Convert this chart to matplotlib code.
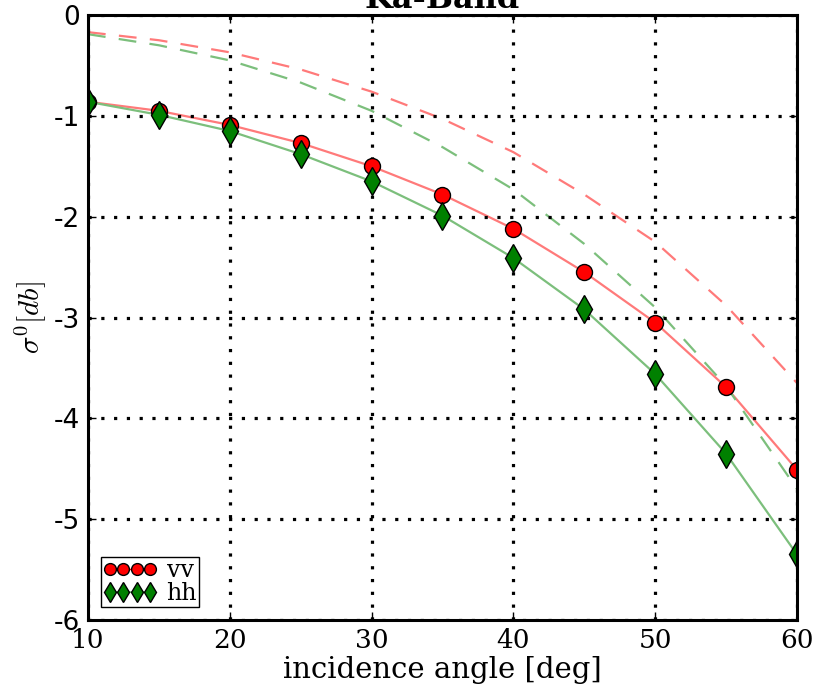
import matplotlib
matplotlib.use('Agg')
import matplotlib.pyplot as plt
from matplotlib.lines import Line2D

# data
theta = [10, 15, 20, 25, 30, 35, 40, 45, 50, 55, 60]
vv = [-0.86, -0.95, -1.09, -1.27, -1.50, -1.78, -2.12, -2.55, -3.05, -3.69, -4.51]
hh = [-0.86, -0.99, -1.15, -1.38, -1.65, -1.99, -2.41, -2.92, -3.56, -4.35, -5.35]
vv_dash = [-0.17, -0.25, -0.37, -0.54, -0.76, -1.03, -1.36, -1.78, -2.25, -2.88, -3.65]
hh_dash = [-0.19, -0.30, -0.45, -0.67, -0.95, -1.31, -1.73, -2.27, -2.90, -3.68, -4.70]
xticks = [10, 20, 30, 40, 50, 60]
yticks = [0, -1, -2, -3, -4, -5, -6]

plt.rcParams['font.family'] = 'DejaVu Serif'
plt.rcParams['mathtext.fontset'] = 'cm'

fig = plt.figure(figsize=(8.16, 6.89), dpi=100)
ax = fig.add_axes([0.1078, 0.1001, 0.8689, 0.8781])

red_l = '#ff7a7a'
green_l = '#7cbf7c'

# model curves
ax.plot(theta, vv, color=red_l, lw=1.6, zorder=2)
ax.plot(theta, hh, color=green_l, lw=1.6, zorder=2)
ax.plot(theta, vv_dash, color=red_l, lw=1.6, ls=(0, (8, 6)), zorder=2)
ax.plot(theta, hh_dash, color=green_l, lw=1.6, ls=(0, (8, 6)), zorder=2)

# measured points (clipped at the frame like the original)
ax.plot(theta, vv, 'o', color='r', mec='k', mew=1, ms=11.5, ls='none', zorder=3)
ax.plot(theta, hh, 'd', color='g', mec='k', mew=1, ms=14, ls='none', zorder=3)

ax.set_xlim(10, 60)
ax.set_ylim(-6, 0)
ax.set_xticks(xticks)
ax.set_yticks(yticks)
ax.set_xticklabels([str(t) for t in xticks], fontsize=19)
ax.set_yticklabels([str(t) for t in yticks], fontsize=19, family='DejaVu Sans')

ax.grid(True, color='k', ls=(0, (1, 3)), lw=2.3, zorder=4)
ax.set_axisbelow(False)
ax.tick_params(direction='in', length=6, width=1, top=True, right=True, pad=6)
for s in ax.spines.values():
    s.set_linewidth(2.2)
    s.set_zorder(5)

ax.set_xlabel('incidence angle [deg]', fontsize=21, labelpad=2)
ax.set_ylabel(r'$\sigma^0[db]$', fontsize=21, labelpad=4)
ax.set_title('Ka-Band', fontsize=23, fontweight='bold', pad=5)

h1 = Line2D([], [], color='r', marker='o', mfc='r', mec='k', ms=8.5, lw=1)
h2 = Line2D([], [], color=green_l, marker='d', mfc='g', mec='k', ms=10, lw=1.2)
leg = ax.legend([h1, h2], ['vv', 'hh'], loc='lower left', numpoints=4, fontsize=17,
                fancybox=False, edgecolor='k', framealpha=1, labelspacing=0.0,
                handlelength=2.3, handletextpad=0.4, borderpad=0.08,
                borderaxespad=0.55)
leg.get_frame().set_linewidth(1)
leg.set_zorder(6)

fig.savefig('out.png', dpi=100)
